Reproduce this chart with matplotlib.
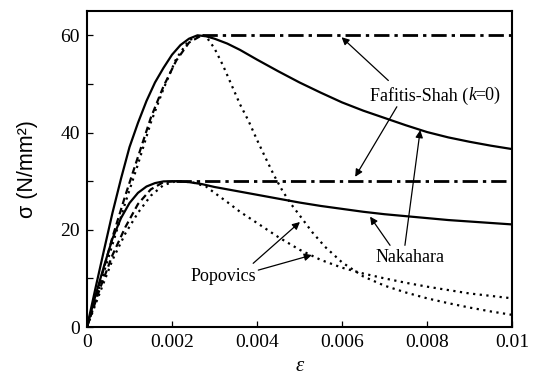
import numpy as np
import matplotlib
matplotlib.use('Agg')
import matplotlib.pyplot as plt

# Nakahara (durchgezogen)
eps_nk60 = [0, 0.0002, 0.0004, 0.0006, 0.0008, 0.001, 0.0012, 0.0014, 0.0016, 0.0018,
            0.002, 0.0022, 0.0024, 0.0026, 0.0028, 0.003, 0.0033, 0.0036, 0.004, 0.0045,
            0.005, 0.0055, 0.006, 0.0065, 0.007, 0.0075, 0.008, 0.0085, 0.009, 0.0095, 0.01]
sig_nk60 = [0, 8, 15.8, 23.5, 30.5, 37, 42, 46.5, 50.3, 53.3,
            56, 58, 59.3, 60, 59.8, 59.3, 58.3, 57.0, 55.0, 52.6,
            50.3, 48.2, 46.2, 44.5, 43, 41.5, 40.1, 39, 38.1, 37.3, 36.6]

eps_nk30 = [0, 0.0002, 0.0004, 0.0006, 0.0008, 0.001, 0.0012, 0.0014, 0.0016, 0.0018,
            0.0021, 0.0024, 0.0027, 0.003, 0.0035, 0.004, 0.0045, 0.005, 0.0055, 0.006,
            0.0065, 0.007, 0.0075, 0.008, 0.0085, 0.009, 0.0095, 0.01]
sig_nk30 = [0, 6.5, 12.5, 18.2, 22.4, 25.5, 27.6, 28.9, 29.6, 29.95,
            30, 29.8, 29.4, 28.8, 28.0, 27.2, 26.4, 25.6, 24.9, 24.3,
            23.7, 23.2, 22.8, 22.4, 22.0, 21.7, 21.4, 21.1]

# Popovics (gepunktet)
eps_pp60 = [0, 0.0003, 0.0006, 0.0009, 0.0012, 0.0015, 0.0018, 0.0021, 0.0024, 0.0027,
            0.0028, 0.003, 0.0032, 0.0034, 0.0036, 0.0038, 0.004, 0.0042, 0.0044, 0.0046,
            0.0048, 0.005, 0.0053, 0.0056, 0.006, 0.0065, 0.007, 0.0075, 0.008, 0.0085,
            0.009, 0.0095, 0.01]
sig_pp60 = [0, 8.5, 17, 25.5, 33.5, 42, 49, 55.2, 59, 60,
            59.8, 57.3, 53.8, 49.8, 45.8, 42.4, 38.5, 34.8, 31.2, 28.0,
            25.3, 23.0, 19.5, 16.5, 13.3, 10.4, 8.5, 7.1, 5.9, 4.9,
            4.0, 3.2, 2.5]

eps_pp30 = [0, 0.0003, 0.0006, 0.0009, 0.0012, 0.0015, 0.0018, 0.0021, 0.0023, 0.0025,
            0.0028, 0.003, 0.0033, 0.0036, 0.004, 0.0045, 0.005, 0.0055, 0.006, 0.0065,
            0.007, 0.0075, 0.008, 0.0085, 0.009, 0.0095, 0.01]
sig_pp30 = [0, 7, 13.8, 19.2, 23.5, 27.0, 29.2, 30, 29.9, 29.7,
            28.9, 27.6, 25.7, 23.7, 21.4, 18.5, 15.9, 13.8, 12.2, 11.0,
            10.0, 9.1, 8.3, 7.6, 6.9, 6.4, 5.9]

# Fafitis-Shah (k=0): Anstieg, danach Plateau
eps_fs60 = [0, 0.0003, 0.0006, 0.0009, 0.0012, 0.0015, 0.0018, 0.0021, 0.0024, 0.0027, 0.01]
sig_fs60 = [0, 9, 18.5, 27, 35, 43, 49.5, 54.8, 58.5, 60, 60]
eps_fs30 = [0, 0.0003, 0.0006, 0.0009, 0.0012, 0.0015, 0.0018, 0.0021, 0.01]
sig_fs30 = [0, 7.8, 14.8, 20.5, 25.3, 28.3, 29.8, 30, 30]

xticks = [0, 0.002, 0.004, 0.006, 0.008, 0.01]
xticklabels = ['0', '0.002', '0.004', '0.006', '0.008', '0.01']
yticks = [0, 20, 40, 60]

plt.rcParams['font.family'] = ['Liberation Serif', 'DejaVu Serif']

fig = plt.figure(figsize=(5.37, 3.83), dpi=100)
ax = fig.add_axes([0.162, 0.1462, 0.7915, 0.8251])

lw = 1.6
dots = (0, (1.0, 2.0))
ax.plot(eps_nk60, sig_nk60, color='black', lw=lw)
ax.plot(eps_nk30, sig_nk30, color='black', lw=lw)
ax.plot(eps_pp60, sig_pp60, color='black', lw=lw, linestyle=dots)
ax.plot(eps_pp30, sig_pp30, color='black', lw=lw, linestyle=dots)

for e, s in [(eps_fs60, sig_fs60), (eps_fs30, sig_fs30)]:
    k = len(e) - 2
    ax.plot(e[:k + 1], s[:k + 1], color='black', lw=lw, linestyle=(0, (3.0, 1.8)))
    ax.plot(e[k:], s[k:], color='black', lw=2.0, linestyle=(0, (5.5, 1.8, 1.2, 1.8)))

ax.set_xlim(0, 0.01)
ax.set_ylim(0, 65)
ax.set_xticks(xticks)
ax.set_xticklabels(xticklabels)
ax.set_yticks(yticks)
ax.set_yticks([10, 30, 50], minor=True)
ax.tick_params(which='both', direction='in', length=4.5, width=0.9,
               labelsize=14, top=False, right=False, pad=5)
for sp in ax.spines.values():
    sp.set_linewidth(1.5)

ax.set_xlabel('ε', fontsize=15, style='italic', labelpad=4)
ax.set_ylabel('σ (N/mm²)', fontsize=15.5, family=['Liberation Sans', 'DejaVu Sans'], labelpad=16)

arr = dict(arrowstyle='-|>', color='black', lw=0.9, mutation_scale=11, shrinkA=0, shrinkB=0)

fs = 13
ax.text(0.00898, 47.6, 'Fafitis-Shah (', fontsize=fs, ha='right', va='center')
ax.text(0.00897, 47.6, 'k', fontsize=fs, style='italic', ha='left', va='center')
ax.text(0.00913, 47.6, '=0)', fontsize=fs, ha='left', va='center')
ax.annotate('', xy=(0.00599, 59.6), xytext=(0.00709, 50.7), arrowprops=arr)
ax.annotate('', xy=(0.00631, 30.9), xytext=(0.00729, 45.3), arrowprops=arr)

ax.text(0.0076, 14.2, 'Nakahara', fontsize=fs, ha='center', va='center')
ax.annotate('', xy=(0.00666, 22.7), xytext=(0.00713, 16.8), arrowprops=arr)
ax.annotate('', xy=(0.00784, 40.5), xytext=(0.00748, 16.8), arrowprops=arr)

ax.text(0.0032, 10.3, 'Popovics', fontsize=fs, ha='center', va='center')
ax.annotate('', xy=(0.00501, 21.6), xytext=(0.00391, 13.1), arrowprops=arr)
ax.annotate('', xy=(0.00529, 14.8), xytext=(0.00403, 11.7), arrowprops=arr)

fig.savefig('out.png', dpi=100)
